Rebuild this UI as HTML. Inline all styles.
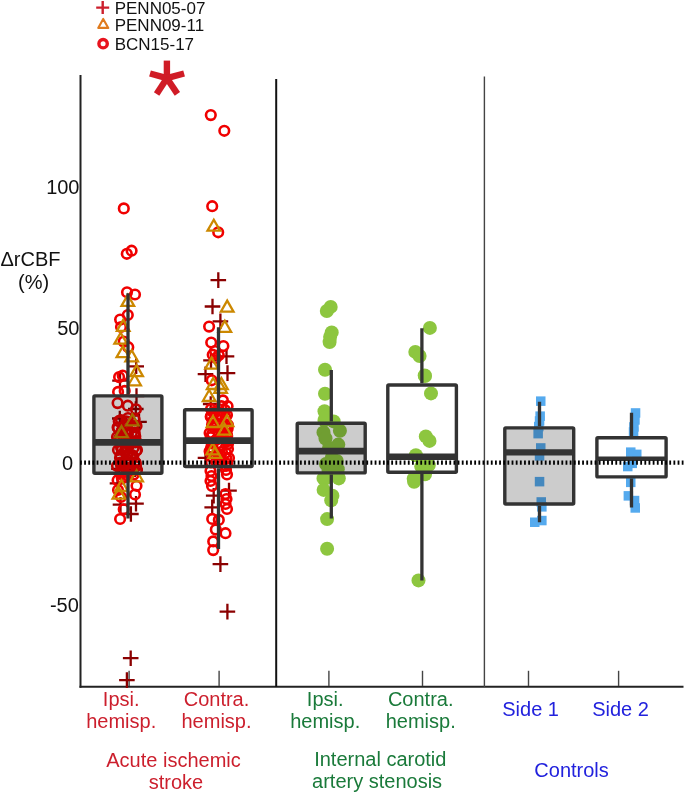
<!DOCTYPE html>
<html><head><meta charset="utf-8"><style>
html,body{margin:0;padding:0;background:#fff;}
body{width:685px;height:795px;overflow:hidden;}
svg{display:block;font-family:"Liberation Sans", sans-serif;will-change:transform;}
</style></head><body>
<svg width="685" height="795" viewBox="0 0 685 795">
<rect width="685" height="795" fill="#fff"/>
<!-- legend -->
<path d="M96.2 7.6H109.2M102.7 1.1V14.1" stroke="#cc1f2d" stroke-width="2.4"/>
<path d="M98.2 27.9L108.3 27.9L103.2 18.9Z" stroke="#e07b1e" stroke-width="2.1" fill="none" stroke-linejoin="round"/>
<circle cx="103.1" cy="43.7" r="4.2" fill="none" stroke="#e8141e" stroke-width="3.4"/>
<g font-size="17" fill="#111">
<text x="114.7" y="14.4">PENN05-07</text>
<text x="114.7" y="30.5">PENN09-11</text>
<text x="114.7" y="49.9">BCN15-17</text>
</g>
<!-- asterisk -->
<g stroke="#d01c26" stroke-width="6.4" fill="none">
<path d="M166.9 78.2V60.6"/>
<path d="M166.9 78.2L150 73.5"/>
<path d="M166.9 78.2L184.1 73.5"/>
<path d="M166.9 78.2L156.6 93.9"/>
<path d="M166.9 78.2L177.4 93.9"/>
</g>
<!-- axes -->
<path d="M80.5 75V687.8" stroke="#222" stroke-width="2"/>
<path d="M79.5 686.8H683.5" stroke="#222" stroke-width="2"/>
<path d="M276.2 79V687" stroke="#111" stroke-width="2"/>
<path d="M484.4 76.6V687" stroke="#444" stroke-width="1.4"/>
<g stroke="#444" stroke-width="1.4">
<path d="M129.1 670.8V686"/><path d="M219.1 670.8V686"/><path d="M328.9 670.8V686"/>
<path d="M422.5 670.8V686"/><path d="M528.5 670.8V686"/><path d="M618.6 670.8V686"/>
</g>
<!-- y labels -->
<g font-size="20" fill="#111" text-anchor="end">
<text x="79.5" y="193.8">100</text>
<text x="79.5" y="335.4">50</text>
<text x="73" y="470">0</text>
<text x="78.8" y="612.3">-50</text>
</g>
<g font-size="20" fill="#111" text-anchor="middle">
<text x="30.5" y="265.5">ΔrCBF</text>
<text x="33.6" y="288.5">(%)</text>
</g>
<!-- points -->
<path d="M128.4 366.3H144.0M136.2 358.5V374.1" stroke="#8b0000" stroke-width="2.3" fill="none"/>
<path d="M112.2 380.7H127.8M120 372.9V388.5" stroke="#8b0000" stroke-width="2.3" fill="none"/>
<path d="M128.7 396H144.3M136.5 388.2V403.8" stroke="#8b0000" stroke-width="2.3" fill="none"/>
<path d="M112.0 418.5H127.6M119.8 410.7V426.3" stroke="#8b0000" stroke-width="2.3" fill="none"/>
<path d="M131.2 421.9H146.8M139 414.1V429.7" stroke="#8b0000" stroke-width="2.3" fill="none"/>
<path d="M128.0 409H143.6M135.8 401.2V416.8" stroke="#8b0000" stroke-width="2.3" fill="none"/>
<path d="M109.7 483.3H125.3M117.5 475.5V491.1" stroke="#8b0000" stroke-width="2.3" fill="none"/>
<path d="M128.2 503.7H143.8M136 495.9V511.5" stroke="#8b0000" stroke-width="2.3" fill="none"/>
<path d="M112.7 504.7H128.3M120.5 496.9V512.5" stroke="#8b0000" stroke-width="2.3" fill="none"/>
<path d="M123.1 514H138.7M130.9 506.2V521.8" stroke="#8b0000" stroke-width="2.3" fill="none"/>
<path d="M122.9 658.2H138.5M130.7 650.4V666.0" stroke="#8b0000" stroke-width="2.3" fill="none"/>
<path d="M119.1 680.1H134.7M126.9 672.3V687.9" stroke="#8b0000" stroke-width="2.3" fill="none"/>
<path d="M111.2 468.8H126.8M119 461.0V476.6" stroke="#8b0000" stroke-width="2.3" fill="none"/>
<path d="M127.2 469.3H142.8M135 461.5V477.1" stroke="#8b0000" stroke-width="2.3" fill="none"/>
<path d="M210.5 280.1H226.1M218.3 272.3V287.9" stroke="#8b0000" stroke-width="2.3" fill="none"/>
<path d="M204.7 306.5H220.3M212.5 298.7V314.3" stroke="#8b0000" stroke-width="2.3" fill="none"/>
<path d="M212.6 321.3H228.2M220.4 313.5V329.1" stroke="#8b0000" stroke-width="2.3" fill="none"/>
<path d="M218.7 356.3H234.3M226.5 348.5V364.1" stroke="#8b0000" stroke-width="2.3" fill="none"/>
<path d="M203.2 360.4H218.8M211 352.6V368.2" stroke="#8b0000" stroke-width="2.3" fill="none"/>
<path d="M219.7 373.1H235.3M227.5 365.3V380.9" stroke="#8b0000" stroke-width="2.3" fill="none"/>
<path d="M197.7 374.2H213.3M205.5 366.4V382.0" stroke="#8b0000" stroke-width="2.3" fill="none"/>
<path d="M202.9 404H218.5M210.7 396.2V411.8" stroke="#8b0000" stroke-width="2.3" fill="none"/>
<path d="M197.7 457.9H213.3M205.5 450.1V465.7" stroke="#8b0000" stroke-width="2.3" fill="none"/>
<path d="M221.2 490.6H236.8M229 482.8V498.4" stroke="#8b0000" stroke-width="2.3" fill="none"/>
<path d="M205.9 495.7H221.5M213.7 487.9V503.5" stroke="#8b0000" stroke-width="2.3" fill="none"/>
<path d="M204.4 507.3H220.0M212.2 499.5V515.1" stroke="#8b0000" stroke-width="2.3" fill="none"/>
<path d="M212.6 564.1H228.2M220.4 556.3V571.9" stroke="#8b0000" stroke-width="2.3" fill="none"/>
<path d="M219.6 611.6H235.2M227.4 603.8V619.4" stroke="#8b0000" stroke-width="2.3" fill="none"/>
<circle cx="118.7" cy="421.2" r="4.8" fill="none" stroke="#f00000" stroke-width="2.6"/>
<circle cx="126.3" cy="421.4" r="4.8" fill="none" stroke="#f00000" stroke-width="2.6"/>
<circle cx="134.6" cy="419.3" r="4.8" fill="none" stroke="#f00000" stroke-width="2.6"/>
<circle cx="117.6" cy="427.3" r="4.8" fill="none" stroke="#f00000" stroke-width="2.6"/>
<circle cx="125.8" cy="424.9" r="4.8" fill="none" stroke="#f00000" stroke-width="2.6"/>
<circle cx="136.5" cy="425.9" r="4.8" fill="none" stroke="#f00000" stroke-width="2.6"/>
<circle cx="121.7" cy="430.9" r="4.8" fill="none" stroke="#f00000" stroke-width="2.6"/>
<circle cx="127.7" cy="429.6" r="4.8" fill="none" stroke="#f00000" stroke-width="2.6"/>
<circle cx="134.7" cy="432.5" r="4.8" fill="none" stroke="#f00000" stroke-width="2.6"/>
<circle cx="120.1" cy="437.0" r="4.8" fill="none" stroke="#f00000" stroke-width="2.6"/>
<circle cx="127.9" cy="434.3" r="4.8" fill="none" stroke="#f00000" stroke-width="2.6"/>
<circle cx="135.3" cy="436.4" r="4.8" fill="none" stroke="#f00000" stroke-width="2.6"/>
<circle cx="119.0" cy="439.1" r="4.8" fill="none" stroke="#f00000" stroke-width="2.6"/>
<circle cx="128.8" cy="440.9" r="4.8" fill="none" stroke="#f00000" stroke-width="2.6"/>
<circle cx="135.1" cy="442.5" r="4.8" fill="none" stroke="#f00000" stroke-width="2.6"/>
<circle cx="121.1" cy="447.7" r="4.8" fill="none" stroke="#f00000" stroke-width="2.6"/>
<circle cx="126.5" cy="447.2" r="4.8" fill="none" stroke="#f00000" stroke-width="2.6"/>
<circle cx="133.7" cy="447.7" r="4.8" fill="none" stroke="#f00000" stroke-width="2.6"/>
<circle cx="121.9" cy="449.4" r="4.8" fill="none" stroke="#f00000" stroke-width="2.6"/>
<circle cx="125.2" cy="449.9" r="4.8" fill="none" stroke="#f00000" stroke-width="2.6"/>
<circle cx="136.3" cy="450.7" r="4.8" fill="none" stroke="#f00000" stroke-width="2.6"/>
<circle cx="120.6" cy="455.2" r="4.8" fill="none" stroke="#f00000" stroke-width="2.6"/>
<circle cx="127.0" cy="455.5" r="4.8" fill="none" stroke="#f00000" stroke-width="2.6"/>
<circle cx="133.3" cy="456.3" r="4.8" fill="none" stroke="#f00000" stroke-width="2.6"/>
<circle cx="120.4" cy="462.6" r="4.8" fill="none" stroke="#f00000" stroke-width="2.6"/>
<circle cx="127.9" cy="462.7" r="4.8" fill="none" stroke="#f00000" stroke-width="2.6"/>
<circle cx="135.8" cy="463.0" r="4.8" fill="none" stroke="#f00000" stroke-width="2.6"/>
<circle cx="120.9" cy="464.7" r="4.8" fill="none" stroke="#f00000" stroke-width="2.6"/>
<circle cx="128.8" cy="467.9" r="4.8" fill="none" stroke="#f00000" stroke-width="2.6"/>
<circle cx="136.0" cy="466.3" r="4.8" fill="none" stroke="#f00000" stroke-width="2.6"/>
<circle cx="121.1" cy="469.8" r="4.8" fill="none" stroke="#f00000" stroke-width="2.6"/>
<circle cx="128.7" cy="471.3" r="4.8" fill="none" stroke="#f00000" stroke-width="2.6"/>
<circle cx="132.9" cy="469.3" r="4.8" fill="none" stroke="#f00000" stroke-width="2.6"/>
<circle cx="121.8" cy="478.0" r="4.8" fill="none" stroke="#f00000" stroke-width="2.6"/>
<circle cx="124.9" cy="477.2" r="4.8" fill="none" stroke="#f00000" stroke-width="2.6"/>
<circle cx="133.6" cy="474.6" r="4.8" fill="none" stroke="#f00000" stroke-width="2.6"/>
<circle cx="211.0" cy="409.1" r="4.8" fill="none" stroke="#f00000" stroke-width="2.6"/>
<circle cx="221.4" cy="406.2" r="4.8" fill="none" stroke="#f00000" stroke-width="2.6"/>
<circle cx="227.6" cy="406.2" r="4.8" fill="none" stroke="#f00000" stroke-width="2.6"/>
<circle cx="213.1" cy="412.3" r="4.8" fill="none" stroke="#f00000" stroke-width="2.6"/>
<circle cx="221.4" cy="414.9" r="4.8" fill="none" stroke="#f00000" stroke-width="2.6"/>
<circle cx="227.0" cy="415.0" r="4.8" fill="none" stroke="#f00000" stroke-width="2.6"/>
<circle cx="211.0" cy="416.3" r="4.8" fill="none" stroke="#f00000" stroke-width="2.6"/>
<circle cx="220.0" cy="416.1" r="4.8" fill="none" stroke="#f00000" stroke-width="2.6"/>
<circle cx="225.5" cy="417.6" r="4.8" fill="none" stroke="#f00000" stroke-width="2.6"/>
<circle cx="212.6" cy="421.6" r="4.8" fill="none" stroke="#f00000" stroke-width="2.6"/>
<circle cx="217.2" cy="424.5" r="4.8" fill="none" stroke="#f00000" stroke-width="2.6"/>
<circle cx="226.1" cy="424.8" r="4.8" fill="none" stroke="#f00000" stroke-width="2.6"/>
<circle cx="214.0" cy="427.5" r="4.8" fill="none" stroke="#f00000" stroke-width="2.6"/>
<circle cx="219.3" cy="428.1" r="4.8" fill="none" stroke="#f00000" stroke-width="2.6"/>
<circle cx="227.7" cy="428.4" r="4.8" fill="none" stroke="#f00000" stroke-width="2.6"/>
<circle cx="212.3" cy="433.5" r="4.8" fill="none" stroke="#f00000" stroke-width="2.6"/>
<circle cx="221.7" cy="433.0" r="4.8" fill="none" stroke="#f00000" stroke-width="2.6"/>
<circle cx="226.7" cy="433.9" r="4.8" fill="none" stroke="#f00000" stroke-width="2.6"/>
<circle cx="210.7" cy="437.2" r="4.8" fill="none" stroke="#f00000" stroke-width="2.6"/>
<circle cx="221.9" cy="438.1" r="4.8" fill="none" stroke="#f00000" stroke-width="2.6"/>
<circle cx="227.2" cy="436.0" r="4.8" fill="none" stroke="#f00000" stroke-width="2.6"/>
<circle cx="211.6" cy="443.3" r="4.8" fill="none" stroke="#f00000" stroke-width="2.6"/>
<circle cx="217.1" cy="443.5" r="4.8" fill="none" stroke="#f00000" stroke-width="2.6"/>
<circle cx="227.7" cy="441.2" r="4.8" fill="none" stroke="#f00000" stroke-width="2.6"/>
<circle cx="212.6" cy="447.9" r="4.8" fill="none" stroke="#f00000" stroke-width="2.6"/>
<circle cx="220.4" cy="447.4" r="4.8" fill="none" stroke="#f00000" stroke-width="2.6"/>
<circle cx="228.0" cy="449.0" r="4.8" fill="none" stroke="#f00000" stroke-width="2.6"/>
<circle cx="209.6" cy="451.2" r="4.8" fill="none" stroke="#f00000" stroke-width="2.6"/>
<circle cx="220.4" cy="454.9" r="4.8" fill="none" stroke="#f00000" stroke-width="2.6"/>
<circle cx="225.8" cy="452.8" r="4.8" fill="none" stroke="#f00000" stroke-width="2.6"/>
<circle cx="212.5" cy="457.3" r="4.8" fill="none" stroke="#f00000" stroke-width="2.6"/>
<circle cx="218.8" cy="457.3" r="4.8" fill="none" stroke="#f00000" stroke-width="2.6"/>
<circle cx="226.3" cy="458.4" r="4.8" fill="none" stroke="#f00000" stroke-width="2.6"/>
<circle cx="211.0" cy="462.5" r="4.8" fill="none" stroke="#f00000" stroke-width="2.6"/>
<circle cx="220.9" cy="461.1" r="4.8" fill="none" stroke="#f00000" stroke-width="2.6"/>
<circle cx="227.3" cy="463.9" r="4.8" fill="none" stroke="#f00000" stroke-width="2.6"/>
<circle cx="123.8" cy="208.4" r="4.8" fill="none" stroke="#f00000" stroke-width="2.6"/>
<circle cx="126.8" cy="253.8" r="4.8" fill="none" stroke="#f00000" stroke-width="2.6"/>
<circle cx="131.6" cy="250.7" r="4.8" fill="none" stroke="#f00000" stroke-width="2.6"/>
<circle cx="127" cy="292.3" r="4.8" fill="none" stroke="#f00000" stroke-width="2.6"/>
<circle cx="135" cy="294.5" r="4.8" fill="none" stroke="#f00000" stroke-width="2.6"/>
<circle cx="127.8" cy="315" r="4.8" fill="none" stroke="#f00000" stroke-width="2.6"/>
<circle cx="120.1" cy="319.6" r="4.8" fill="none" stroke="#f00000" stroke-width="2.6"/>
<circle cx="121" cy="327" r="4.8" fill="none" stroke="#f00000" stroke-width="2.6"/>
<circle cx="123.7" cy="341.6" r="4.8" fill="none" stroke="#f00000" stroke-width="2.6"/>
<circle cx="128.3" cy="347.2" r="4.8" fill="none" stroke="#f00000" stroke-width="2.6"/>
<circle cx="119.1" cy="377.1" r="4.8" fill="none" stroke="#f00000" stroke-width="2.6"/>
<circle cx="122.7" cy="375.5" r="4.8" fill="none" stroke="#f00000" stroke-width="2.6"/>
<circle cx="118.1" cy="391.9" r="4.8" fill="none" stroke="#f00000" stroke-width="2.6"/>
<circle cx="124.7" cy="390.9" r="4.8" fill="none" stroke="#f00000" stroke-width="2.6"/>
<circle cx="117.6" cy="403.1" r="4.8" fill="none" stroke="#f00000" stroke-width="2.6"/>
<circle cx="127.8" cy="405.7" r="4.8" fill="none" stroke="#f00000" stroke-width="2.6"/>
<circle cx="136" cy="409.3" r="4.8" fill="none" stroke="#f00000" stroke-width="2.6"/>
<circle cx="121" cy="420" r="4.8" fill="none" stroke="#f00000" stroke-width="2.6"/>
<circle cx="128" cy="418" r="4.8" fill="none" stroke="#f00000" stroke-width="2.6"/>
<circle cx="133" cy="426" r="4.8" fill="none" stroke="#f00000" stroke-width="2.6"/>
<circle cx="118" cy="428" r="4.8" fill="none" stroke="#f00000" stroke-width="2.6"/>
<circle cx="126" cy="431" r="4.8" fill="none" stroke="#f00000" stroke-width="2.6"/>
<circle cx="131.8" cy="433" r="4.8" fill="none" stroke="#f00000" stroke-width="2.6"/>
<circle cx="117" cy="437" r="4.8" fill="none" stroke="#f00000" stroke-width="2.6"/>
<circle cx="122" cy="442" r="4.8" fill="none" stroke="#f00000" stroke-width="2.6"/>
<circle cx="129" cy="445" r="4.8" fill="none" stroke="#f00000" stroke-width="2.6"/>
<circle cx="136" cy="441" r="4.8" fill="none" stroke="#f00000" stroke-width="2.6"/>
<circle cx="118" cy="450" r="4.8" fill="none" stroke="#f00000" stroke-width="2.6"/>
<circle cx="125" cy="452" r="4.8" fill="none" stroke="#f00000" stroke-width="2.6"/>
<circle cx="132" cy="455" r="4.8" fill="none" stroke="#f00000" stroke-width="2.6"/>
<circle cx="137" cy="450" r="4.8" fill="none" stroke="#f00000" stroke-width="2.6"/>
<circle cx="120" cy="458" r="4.8" fill="none" stroke="#f00000" stroke-width="2.6"/>
<circle cx="128" cy="460" r="4.8" fill="none" stroke="#f00000" stroke-width="2.6"/>
<circle cx="135" cy="462" r="4.8" fill="none" stroke="#f00000" stroke-width="2.6"/>
<circle cx="117" cy="466" r="4.8" fill="none" stroke="#f00000" stroke-width="2.6"/>
<circle cx="124" cy="467" r="4.8" fill="none" stroke="#f00000" stroke-width="2.6"/>
<circle cx="131" cy="469" r="4.8" fill="none" stroke="#f00000" stroke-width="2.6"/>
<circle cx="137" cy="470" r="4.8" fill="none" stroke="#f00000" stroke-width="2.6"/>
<circle cx="121" cy="474" r="4.8" fill="none" stroke="#f00000" stroke-width="2.6"/>
<circle cx="128" cy="476" r="4.8" fill="none" stroke="#f00000" stroke-width="2.6"/>
<circle cx="117.6" cy="480.2" r="4.8" fill="none" stroke="#f00000" stroke-width="2.6"/>
<circle cx="136.5" cy="485.8" r="4.8" fill="none" stroke="#f00000" stroke-width="2.6"/>
<circle cx="135" cy="494.5" r="4.8" fill="none" stroke="#f00000" stroke-width="2.6"/>
<circle cx="118" cy="490" r="4.8" fill="none" stroke="#f00000" stroke-width="2.6"/>
<circle cx="121" cy="497" r="4.8" fill="none" stroke="#f00000" stroke-width="2.6"/>
<circle cx="123.7" cy="509.3" r="4.8" fill="none" stroke="#f00000" stroke-width="2.6"/>
<circle cx="120.1" cy="519" r="4.8" fill="none" stroke="#f00000" stroke-width="2.6"/>
<circle cx="210.8" cy="115.1" r="4.8" fill="none" stroke="#f00000" stroke-width="2.6"/>
<circle cx="224.3" cy="130.8" r="4.8" fill="none" stroke="#f00000" stroke-width="2.6"/>
<circle cx="212.2" cy="206.2" r="4.8" fill="none" stroke="#f00000" stroke-width="2.6"/>
<circle cx="218.2" cy="232.3" r="4.8" fill="none" stroke="#f00000" stroke-width="2.6"/>
<circle cx="209.1" cy="326.6" r="4.8" fill="none" stroke="#f00000" stroke-width="2.6"/>
<circle cx="211.2" cy="342.5" r="4.8" fill="none" stroke="#f00000" stroke-width="2.6"/>
<circle cx="223.4" cy="346.1" r="4.8" fill="none" stroke="#f00000" stroke-width="2.6"/>
<circle cx="212.7" cy="354.7" r="4.8" fill="none" stroke="#f00000" stroke-width="2.6"/>
<circle cx="218.8" cy="355.3" r="4.8" fill="none" stroke="#f00000" stroke-width="2.6"/>
<circle cx="215" cy="351" r="4.8" fill="none" stroke="#f00000" stroke-width="2.6"/>
<circle cx="216" cy="358" r="4.8" fill="none" stroke="#f00000" stroke-width="2.6"/>
<circle cx="211.7" cy="380.3" r="4.8" fill="none" stroke="#f00000" stroke-width="2.6"/>
<circle cx="222.9" cy="400.4" r="4.8" fill="none" stroke="#f00000" stroke-width="2.6"/>
<circle cx="210.7" cy="416.8" r="4.8" fill="none" stroke="#f00000" stroke-width="2.6"/>
<circle cx="209.6" cy="433.1" r="4.8" fill="none" stroke="#f00000" stroke-width="2.6"/>
<circle cx="215" cy="412" r="4.8" fill="none" stroke="#f00000" stroke-width="2.6"/>
<circle cx="225" cy="410" r="4.8" fill="none" stroke="#f00000" stroke-width="2.6"/>
<circle cx="220" cy="420" r="4.8" fill="none" stroke="#f00000" stroke-width="2.6"/>
<circle cx="228" cy="425" r="4.8" fill="none" stroke="#f00000" stroke-width="2.6"/>
<circle cx="212" cy="425" r="4.8" fill="none" stroke="#f00000" stroke-width="2.6"/>
<circle cx="224" cy="432" r="4.8" fill="none" stroke="#f00000" stroke-width="2.6"/>
<circle cx="216" cy="440" r="4.8" fill="none" stroke="#f00000" stroke-width="2.6"/>
<circle cx="228" cy="444" r="4.8" fill="none" stroke="#f00000" stroke-width="2.6"/>
<circle cx="211" cy="448" r="4.8" fill="none" stroke="#f00000" stroke-width="2.6"/>
<circle cx="222" cy="452" r="4.8" fill="none" stroke="#f00000" stroke-width="2.6"/>
<circle cx="229" cy="458" r="4.8" fill="none" stroke="#f00000" stroke-width="2.6"/>
<circle cx="216" cy="462" r="4.8" fill="none" stroke="#f00000" stroke-width="2.6"/>
<circle cx="226" cy="466" r="4.8" fill="none" stroke="#f00000" stroke-width="2.6"/>
<circle cx="210.5" cy="471" r="4.8" fill="none" stroke="#f00000" stroke-width="2.6"/>
<circle cx="211.5" cy="476" r="4.8" fill="none" stroke="#f00000" stroke-width="2.6"/>
<circle cx="210.5" cy="481" r="4.8" fill="none" stroke="#f00000" stroke-width="2.6"/>
<circle cx="212" cy="486" r="4.8" fill="none" stroke="#f00000" stroke-width="2.6"/>
<circle cx="226" cy="470" r="4.8" fill="none" stroke="#f00000" stroke-width="2.6"/>
<circle cx="227" cy="474.5" r="4.8" fill="none" stroke="#f00000" stroke-width="2.6"/>
<circle cx="225.5" cy="494" r="4.8" fill="none" stroke="#f00000" stroke-width="2.6"/>
<circle cx="226.5" cy="499" r="4.8" fill="none" stroke="#f00000" stroke-width="2.6"/>
<circle cx="225.5" cy="504" r="4.8" fill="none" stroke="#f00000" stroke-width="2.6"/>
<circle cx="227" cy="509" r="4.8" fill="none" stroke="#f00000" stroke-width="2.6"/>
<circle cx="212.2" cy="518.9" r="4.8" fill="none" stroke="#f00000" stroke-width="2.6"/>
<circle cx="218.8" cy="519.9" r="4.8" fill="none" stroke="#f00000" stroke-width="2.6"/>
<circle cx="215.8" cy="529.6" r="4.8" fill="none" stroke="#f00000" stroke-width="2.6"/>
<circle cx="225.5" cy="533.2" r="4.8" fill="none" stroke="#f00000" stroke-width="2.6"/>
<circle cx="213.2" cy="541.4" r="4.8" fill="none" stroke="#f00000" stroke-width="2.6"/>
<circle cx="213.2" cy="550.1" r="4.8" fill="none" stroke="#f00000" stroke-width="2.6"/>
<path d="M121.5 305.9L134.1 305.9L127.8 294.9Z" stroke="#cc8800" stroke-width="2.3" fill="none" stroke-linejoin="miter"/>
<path d="M116.9 330.9L129.5 330.9L123.2 319.9Z" stroke="#cc8800" stroke-width="2.3" fill="none" stroke-linejoin="miter"/>
<path d="M114.4 343.7L127.0 343.7L120.7 332.7Z" stroke="#cc8800" stroke-width="2.3" fill="none" stroke-linejoin="miter"/>
<path d="M116.6 357.2L129.2 357.2L122.9 346.2Z" stroke="#cc8800" stroke-width="2.3" fill="none" stroke-linejoin="miter"/>
<path d="M125.4 361.3L138.0 361.3L131.7 350.3Z" stroke="#cc8800" stroke-width="2.3" fill="none" stroke-linejoin="miter"/>
<path d="M130.3 376.1L142.9 376.1L136.6 365.1Z" stroke="#cc8800" stroke-width="2.3" fill="none" stroke-linejoin="miter"/>
<path d="M128.3 385.3L140.9 385.3L134.6 374.3Z" stroke="#cc8800" stroke-width="2.3" fill="none" stroke-linejoin="miter"/>
<path d="M126.1 425.3L138.7 425.3L132.4 414.3Z" stroke="#cc8800" stroke-width="2.3" fill="none" stroke-linejoin="miter"/>
<path d="M115.2 437.1L127.8 437.1L121.5 426.1Z" stroke="#cc8800" stroke-width="2.3" fill="none" stroke-linejoin="miter"/>
<path d="M130.3 481.3L142.9 481.3L136.6 470.3Z" stroke="#cc8800" stroke-width="2.3" fill="none" stroke-linejoin="miter"/>
<path d="M115.2 491.0L127.8 491.0L121.5 480.0Z" stroke="#cc8800" stroke-width="2.3" fill="none" stroke-linejoin="miter"/>
<path d="M112.6 498.6L125.2 498.6L118.9 487.6Z" stroke="#cc8800" stroke-width="2.3" fill="none" stroke-linejoin="miter"/>
<path d="M207.5 230.7L220.1 230.7L213.8 219.7Z" stroke="#cc8800" stroke-width="2.3" fill="none" stroke-linejoin="miter"/>
<path d="M220.9 311.6L233.5 311.6L227.2 300.6Z" stroke="#cc8800" stroke-width="2.3" fill="none" stroke-linejoin="miter"/>
<path d="M218.5 331.8L231.1 331.8L224.8 320.8Z" stroke="#cc8800" stroke-width="2.3" fill="none" stroke-linejoin="miter"/>
<path d="M205.3 368.6L217.9 368.6L211.6 357.6Z" stroke="#cc8800" stroke-width="2.3" fill="none" stroke-linejoin="miter"/>
<path d="M206.9 389.0L219.5 389.0L213.2 378.0Z" stroke="#cc8800" stroke-width="2.3" fill="none" stroke-linejoin="miter"/>
<path d="M215.1 389.0L227.7 389.0L221.4 378.0Z" stroke="#cc8800" stroke-width="2.3" fill="none" stroke-linejoin="miter"/>
<path d="M202.9 401.0L215.5 401.0L209.2 390.0Z" stroke="#cc8800" stroke-width="2.3" fill="none" stroke-linejoin="miter"/>
<path d="M214.3 392.8L226.9 392.8L220.6 381.8Z" stroke="#cc8800" stroke-width="2.3" fill="none" stroke-linejoin="miter"/>
<path d="M206.7 427.0L219.3 427.0L213.0 416.0Z" stroke="#cc8800" stroke-width="2.3" fill="none" stroke-linejoin="miter"/>
<path d="M220.7 426.0L233.3 426.0L227.0 415.0Z" stroke="#cc8800" stroke-width="2.3" fill="none" stroke-linejoin="miter"/>
<path d="M218.2 434.7L230.8 434.7L224.5 423.7Z" stroke="#cc8800" stroke-width="2.3" fill="none" stroke-linejoin="miter"/>
<path d="M206.4 454.3L219.0 454.3L212.7 443.3Z" stroke="#cc8800" stroke-width="2.3" fill="none" stroke-linejoin="miter"/>
<path d="M208.6 457.9L221.2 457.9L214.9 446.9Z" stroke="#cc8800" stroke-width="2.3" fill="none" stroke-linejoin="miter"/>
<circle cx="330.7" cy="306.9" r="7" fill="#8dc63f"/>
<circle cx="326.8" cy="311" r="7" fill="#8dc63f"/>
<circle cx="331.7" cy="332.4" r="7" fill="#8dc63f"/>
<circle cx="329.6" cy="342.1" r="7" fill="#8dc63f"/>
<circle cx="330.1" cy="337" r="7" fill="#8dc63f"/>
<circle cx="325" cy="369.8" r="7" fill="#8dc63f"/>
<circle cx="325" cy="393.8" r="7" fill="#8dc63f"/>
<circle cx="324.5" cy="411.2" r="7" fill="#8dc63f"/>
<circle cx="324.5" cy="420.4" r="7" fill="#8dc63f"/>
<circle cx="333.7" cy="421.4" r="7" fill="#8dc63f"/>
<circle cx="325.5" cy="417" r="7" fill="#8dc63f"/>
<circle cx="323.5" cy="432.4" r="7" fill="#8dc63f"/>
<circle cx="339.9" cy="430.8" r="7" fill="#8dc63f"/>
<circle cx="325.5" cy="438.5" r="7" fill="#8dc63f"/>
<circle cx="338.3" cy="444.6" r="7" fill="#8dc63f"/>
<circle cx="329" cy="448" r="7" fill="#8dc63f"/>
<circle cx="331.7" cy="457.9" r="7" fill="#8dc63f"/>
<circle cx="336.8" cy="461" r="7" fill="#8dc63f"/>
<circle cx="326" cy="464" r="7" fill="#8dc63f"/>
<circle cx="337.8" cy="469.2" r="7" fill="#8dc63f"/>
<circle cx="328.6" cy="470.2" r="7" fill="#8dc63f"/>
<circle cx="323.5" cy="478.4" r="7" fill="#8dc63f"/>
<circle cx="338.8" cy="478.4" r="7" fill="#8dc63f"/>
<circle cx="324.8" cy="478.8" r="7" fill="#8dc63f"/>
<circle cx="338.2" cy="477" r="7" fill="#8dc63f"/>
<circle cx="323.6" cy="489.9" r="7" fill="#8dc63f"/>
<circle cx="332.4" cy="495.7" r="7" fill="#8dc63f"/>
<circle cx="331.2" cy="500.4" r="7" fill="#8dc63f"/>
<circle cx="327.1" cy="519.1" r="7" fill="#8dc63f"/>
<circle cx="327.1" cy="548.8" r="7" fill="#8dc63f"/>
<circle cx="429.9" cy="327.9" r="7" fill="#8dc63f"/>
<circle cx="415.3" cy="351.9" r="7" fill="#8dc63f"/>
<circle cx="419.6" cy="356" r="7" fill="#8dc63f"/>
<circle cx="424.7" cy="375.4" r="7" fill="#8dc63f"/>
<circle cx="425" cy="376" r="7" fill="#8dc63f"/>
<circle cx="431" cy="393.4" r="7" fill="#8dc63f"/>
<circle cx="425.8" cy="436.4" r="7" fill="#8dc63f"/>
<circle cx="429.5" cy="440.9" r="7" fill="#8dc63f"/>
<circle cx="415.9" cy="455.3" r="7" fill="#8dc63f"/>
<circle cx="421.2" cy="466.6" r="7" fill="#8dc63f"/>
<circle cx="428.8" cy="465.1" r="7" fill="#8dc63f"/>
<circle cx="413.7" cy="478.7" r="7" fill="#8dc63f"/>
<circle cx="425" cy="474.2" r="7" fill="#8dc63f"/>
<circle cx="414.1" cy="481.7" r="7" fill="#8dc63f"/>
<circle cx="418.5" cy="580.4" r="7" fill="#8dc63f"/>
<rect x="536.0" y="396.4" width="9.5" height="9.5" fill="#55aaee"/>
<rect x="535.4" y="411.4" width="9.5" height="9.5" fill="#55aaee"/>
<rect x="534.8" y="416.2" width="9.5" height="9.5" fill="#55aaee"/>
<rect x="534.0" y="421.8" width="9.5" height="9.5" fill="#55aaee"/>
<rect x="533.4" y="428.9" width="9.5" height="9.5" fill="#55aaee"/>
<rect x="536.0" y="443.2" width="9.5" height="9.5" fill="#55aaee"/>
<rect x="534.8" y="451.2" width="9.5" height="9.5" fill="#55aaee"/>
<rect x="534.8" y="476.9" width="9.5" height="9.5" fill="#55aaee"/>
<rect x="536.5" y="497.2" width="9.5" height="9.5" fill="#55aaee"/>
<rect x="537.1" y="502.1" width="9.5" height="9.5" fill="#55aaee"/>
<rect x="530.0" y="517.5" width="9.5" height="9.5" fill="#55aaee"/>
<rect x="537.1" y="515.8" width="9.5" height="9.5" fill="#55aaee"/>
<rect x="630.8" y="408.2" width="9.5" height="9.5" fill="#55aaee"/>
<rect x="630.2" y="415.2" width="9.5" height="9.5" fill="#55aaee"/>
<rect x="629.2" y="422.2" width="9.5" height="9.5" fill="#55aaee"/>
<rect x="628.8" y="427.2" width="9.5" height="9.5" fill="#55aaee"/>
<rect x="626.0" y="447.4" width="9.5" height="9.5" fill="#55aaee"/>
<rect x="632.0" y="449.6" width="9.5" height="9.5" fill="#55aaee"/>
<rect x="623.0" y="461.8" width="9.5" height="9.5" fill="#55aaee"/>
<rect x="627.5" y="458.6" width="9.5" height="9.5" fill="#55aaee"/>
<rect x="626.0" y="477.6" width="9.5" height="9.5" fill="#55aaee"/>
<rect x="623.6" y="491.1" width="9.5" height="9.5" fill="#55aaee"/>
<rect x="629.8" y="495.8" width="9.5" height="9.5" fill="#55aaee"/>
<rect x="630.5" y="503.2" width="9.5" height="9.5" fill="#55aaee"/>
<!-- boxes -->
<rect x="93.9" y="395.9" width="68.0" height="77.4" fill="#000" fill-opacity="0.2"/>
<path d="M128.0 293.2V394.2M128.0 475.0V518.5" stroke="#333333" stroke-width="3.3" fill="none"/>
<rect x="93.9" y="395.9" width="68.0" height="77.4" fill="none" stroke="#333333" stroke-width="3.4" rx="1"/>
<path d="M93.9 442.3H161.9" stroke="#333333" stroke-width="6.8"/>
<path d="M218.5 327.2V408.1M218.5 468.2V549.0" stroke="#333333" stroke-width="3.3" fill="none"/>
<rect x="184.6" y="409.8" width="67.5" height="56.7" fill="none" stroke="#333333" stroke-width="3.4" rx="1"/>
<path d="M184.6 440.6H252.10000000000002" stroke="#333333" stroke-width="6.6"/>
<rect x="297.2" y="423.3" width="68.0" height="49.6" fill="#000" fill-opacity="0.2"/>
<path d="M331.3 370.1V421.6M331.3 474.6V518.5" stroke="#333333" stroke-width="3.3" fill="none"/>
<rect x="297.2" y="423.3" width="68.0" height="49.6" fill="none" stroke="#333333" stroke-width="3.4" rx="1"/>
<path d="M297.2 451.1H365.2" stroke="#333333" stroke-width="6.6"/>
<path d="M421.9 328.2V383.3M421.9 473.9V580.4" stroke="#333333" stroke-width="3.3" fill="none"/>
<rect x="387.8" y="385.0" width="68.6" height="87.2" fill="none" stroke="#333333" stroke-width="3.4" rx="1"/>
<path d="M387.8 456.8H456.40000000000003" stroke="#333333" stroke-width="6.4"/>
<rect x="504.8" y="427.9" width="68.9" height="76.1" fill="#000" fill-opacity="0.2"/>
<path d="M539.5 401.7V426.2M539.5 505.7V522.3" stroke="#333333" stroke-width="3.3" fill="none"/>
<rect x="504.8" y="427.9" width="68.9" height="76.1" fill="none" stroke="#333333" stroke-width="3.4" rx="1"/>
<path d="M504.8 452.4H573.6999999999999" stroke="#333333" stroke-width="6.1"/>
<path d="M631.5 412.8V436.1M631.5 478.6V507.5" stroke="#333333" stroke-width="3.3" fill="none"/>
<rect x="596.9000000000001" y="437.8" width="69.2" height="39.1" fill="none" stroke="#333333" stroke-width="3.4" rx="1"/>
<path d="M596.9000000000001 458.8H666.0999999999999" stroke="#333333" stroke-width="4.6"/>
<!-- zero line -->
<path d="M80 462.6H683.5" stroke="#000" stroke-width="4.4" stroke-dasharray="1.8 2.35"/>
<!-- x labels -->
<g font-size="20" text-anchor="middle">
<g fill="#cc1f2d">
<text x="121.2" y="705.8">Ipsi.</text><text x="121.2" y="728.4">hemisp.</text>
<text x="216.5" y="705.8">Contra.</text><text x="216.5" y="728.4">hemisp.</text>
<text x="173.5" y="766.9">Acute ischemic</text><text x="176" y="788.7">stroke</text>
</g>
<g fill="#1a7a3a">
<text x="325.2" y="705.8">Ipsi.</text><text x="325.2" y="728.4">hemisp.</text>
<text x="420.7" y="705.8">Contra.</text><text x="420.7" y="728.4">hemisp.</text>
<text x="380.3" y="766.4">Internal carotid</text><text x="377.1" y="787.5">artery stenosis</text>
</g>
<g fill="#2222dd">
<text x="530.6" y="715.5">Side 1</text><text x="620.5" y="715.5">Side 2</text>
<text x="571.6" y="776.7">Controls</text>
</g>
</g>
</svg>
</body></html>
